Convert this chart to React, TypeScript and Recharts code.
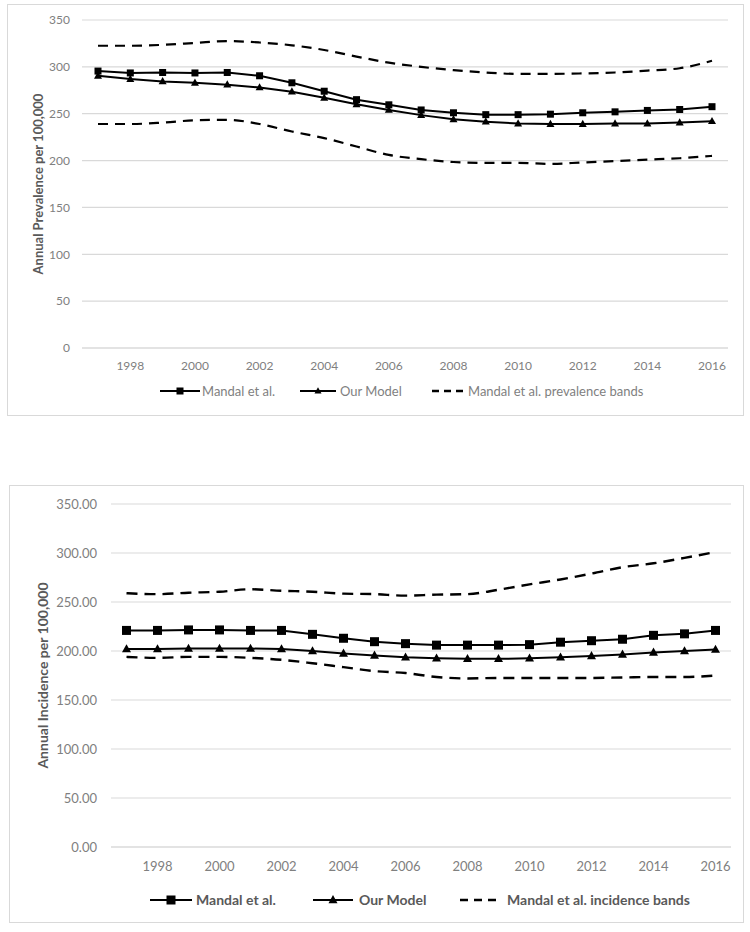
import React from 'react';
import { LineChart, Line, XAxis, YAxis, CartesianGrid, Legend } from 'recharts';

const years = ['1997','1998','1999','2000','2001','2002','2003','2004','2005','2006','2007','2008','2009','2010','2011','2012','2013','2014','2015','2016'];
const xTickLabels = ['1998','2000','2002','2004','2006','2008','2010','2012','2014','2016'];
const yTicks = [0, 50, 100, 150, 200, 250, 300, 350];

const prevMandal = [295.5, 293.5, 294, 293.5, 294, 290.5, 283, 274, 265, 259.5, 254, 251, 249, 249, 249.5, 251, 252, 253.5, 254.5, 257.5];
const prevModel = [290.5, 287, 284.5, 283, 281, 278, 273.5, 267, 260, 254, 248.5, 244, 241.5, 239.5, 239, 239, 239.5, 239.5, 240.5, 242];
const prevUpper = [322.5, 322.5, 323.5, 325.5, 327.5, 326, 323, 318, 311, 304.5, 300, 296.5, 294, 292.5, 292.5, 293, 294, 296, 298.5, 306.5];
const prevLower = [239, 239, 240.5, 243, 243.5, 239, 231, 224, 215, 206, 201.5, 198.5, 197.5, 197.5, 196.5, 198, 199.5, 201, 202.5, 205];

const incMandal = [221, 221, 221.5, 221.5, 221, 221, 217, 213, 209.5, 207.5, 206, 206, 206, 206.5, 209, 210.5, 212, 216, 217.5, 221];
const incModel = [202, 202, 202.5, 202.5, 202.5, 202, 200, 197.5, 195.5, 193.5, 192.5, 192, 192, 192.5, 193.5, 195, 196.5, 198.5, 200, 201.5];
const incUpper = [259, 258, 259.5, 260.5, 263, 261.5, 260.5, 258.5, 258, 256.5, 257.5, 258, 262.5, 268, 273, 279, 285.5, 289.5, 295, 301];
const incLower = [194, 193, 194, 194, 193, 191, 187.5, 183.5, 179.5, 177.5, 173.5, 172, 172.5, 172.5, 172.5, 172.5, 173, 173.5, 173.5, 175];

const prevLegendLabels = ['Mandal et al.', 'Our Model', 'Mandal et al. prevalence bands'];
const incLegendLabels = ['Mandal et al.', 'Our Model', 'Mandal et al. incidence bands'];

const prevData = years.map((y, i) => ({ year: y, mandal: prevMandal[i], model: prevModel[i], upper: prevUpper[i], lower: prevLower[i] }));
const incData = years.map((y, i) => ({ year: y, mandal: incMandal[i], model: incModel[i], upper: incUpper[i], lower: incLower[i] }));

const FONT = "Lato, 'Open Sans', sans-serif";

const squareDot = (size: number) => (props: any) => {
  const { cx, cy, index } = props;
  if (cx == null || cy == null) return <g key={`s${index}`} />;
  return <rect key={`s${index}`} x={cx - size / 2} y={cy - size / 2} width={size} height={size} fill="#000" />;
};
const triDot = (size: number) => (props: any) => {
  const { cx, cy, index } = props;
  if (cx == null || cy == null) return <g key={`t${index}`} />;
  const h = size * 0.9;
  const pts = `${cx},${cy - h * 0.6} ${cx + size / 2},${cy + h * 0.4} ${cx - size / 2},${cy + h * 0.4}`;
  return <polygon key={`t${index}`} points={pts} fill="#000" />;
};

type LegendCfg = {
  labels: string[];
  iconX: number[];
  iconW: number[];
  textX: number[];
  y: number;
  fontSize: number;
  fontWeight: any;
  color: string;
  marker: number;
  dash: string;
};

const makeLegend = (cfg: LegendCfg) => () => {
  const kinds = ['square', 'tri', 'dash'];
  return (
    <div style={{ position: 'relative', width: 0, height: 0 }}>
      {kinds.map((k, i) => {
        const w = cfg.iconW[i];
        const s = cfg.marker;
        return (
          <React.Fragment key={k}>
            <svg style={{ position: 'absolute', left: cfg.iconX[i], top: cfg.y - 8 }} width={w} height={16}>
              {k === 'dash' ? (
                <line x1={0} y1={8} x2={w} y2={8} stroke="#000" strokeWidth={2.4} strokeDasharray={cfg.dash} />
              ) : (
                <line x1={0} y1={8} x2={w} y2={8} stroke="#000" strokeWidth={2} />
              )}
              {k === 'square' && <rect x={w / 2 - s / 2} y={8 - s / 2} width={s} height={s} fill="#000" />}
              {k === 'tri' && (
                <polygon points={`${w / 2},${8 - s * 0.55} ${w / 2 + s / 2},${8 + s * 0.35} ${w / 2 - s / 2},${8 + s * 0.35}`} fill="#000" />
              )}
            </svg>
            <span
              style={{
                position: 'absolute',
                left: cfg.textX[i],
                top: cfg.y - 10,
                height: 20,
                lineHeight: '20px',
                whiteSpace: 'nowrap',
                fontFamily: FONT,
                fontSize: cfg.fontSize,
                fontWeight: cfg.fontWeight,
                color: cfg.color,
              }}
            >
              {cfg.labels[i]}
            </span>
          </React.Fragment>
        );
      })}
    </div>
  );
};

const yLabel = (text: string, offsetX: number, fontSize: number) => (props: any) => {
  const vb = props.viewBox || {};
  const x = (vb.x || 0) + offsetX;
  const y = (vb.y || 0) + (vb.height || 0) / 2;
  return (
    <text
      x={x}
      y={y}
      transform={`rotate(-90, ${x}, ${y})`}
      textAnchor="middle"
      dominantBaseline="central"
      fill="#595959"
      fontFamily={FONT}
      fontWeight="bold"
      fontSize={fontSize}
    >
      {text}
    </text>
  );
};

const xFmt = (v: string) => (xTickLabels.includes(v) ? v : '');

export default function App() {
  return (
    <div style={{ position: 'absolute', left: 0, top: 0, width: 750, height: 932, background: '#fff' }}>
      <div style={{ position: 'absolute', left: 7, top: 4, width: 737, height: 412, border: '1px solid #d9d9d9', boxSizing: 'border-box' }}>
        <LineChart width={735} height={410} data={prevData} margin={{ top: 15, right: 15, left: 0, bottom: 37 }}>
          <CartesianGrid vertical={false} stroke="#d9d9d9" strokeWidth={1.2} />
          <XAxis
            dataKey="year"
            interval={0}
            tickFormatter={xFmt}
            tickLine={false}
            tickSize={0}
            tickMargin={13}
            height={30}
            axisLine={{ stroke: '#d9d9d9', strokeWidth: 1.2 }}
            padding={{ left: 16, right: 16 }}
            tick={{ fill: '#808080', fontSize: 12, fontFamily: FONT }}
          />
          <YAxis
            domain={[0, 350]}
            ticks={yTicks}
            width={74}
            tickLine={false}
            axisLine={false}
            tickSize={0}
            tickMargin={12}
            interval={0}
            tick={{ fill: '#808080', fontSize: 12, fontFamily: FONT }}
            label={yLabel('Annual Prevalence per 100,000', 30, 13)}
          />
          <Legend
            layout="horizontal"
            verticalAlign="middle"
            align="center"
            wrapperStyle={{ left: 0, top: 0, width: 735, height: 0 }}
            content={makeLegend({
              labels: prevLegendLabels,
              iconX: [152, 292, 424],
              iconW: [40, 36, 33],
              textX: [194, 332, 460],
              y: 386,
              fontSize: 13,
              fontWeight: 'normal',
              color: '#7f7f7f',
              marker: 7,
              dash: '7 5',
            })}
          />
          <Line type="linear" dataKey="mandal" stroke="#000" strokeWidth={2} dot={squareDot(7)} activeDot={false} isAnimationActive={false} />
          <Line type="linear" dataKey="model" stroke="#000" strokeWidth={2} dot={triDot(8)} activeDot={false} isAnimationActive={false} />
          <Line type="monotone" dataKey="upper" stroke="#000" strokeWidth={2.2} strokeDasharray="10 7" dot={false} activeDot={false} isAnimationActive={false} />
          <Line type="monotone" dataKey="lower" stroke="#000" strokeWidth={2.2} strokeDasharray="10 7" dot={false} activeDot={false} isAnimationActive={false} />
        </LineChart>
      </div>

      <div style={{ position: 'absolute', left: 9, top: 485, width: 735, height: 438, border: '1px solid #d9d9d9', boxSizing: 'border-box' }}>
        <LineChart width={733} height={436} data={incData} margin={{ top: 18, right: 12, left: 0, bottom: 45 }}>
          <CartesianGrid vertical={false} stroke="#d9d9d9" strokeWidth={1.2} />
          <XAxis
            dataKey="year"
            interval={0}
            tickFormatter={xFmt}
            tickLine={false}
            tickSize={0}
            tickMargin={15}
            height={30}
            axisLine={{ stroke: '#d9d9d9', strokeWidth: 1.2 }}
            padding={{ left: 15.5, right: 15.5 }}
            tick={{ fill: '#808080', fontSize: 13, fontFamily: FONT }}
          />
          <YAxis
            domain={[0, 350]}
            ticks={yTicks}
            width={101}
            tickLine={false}
            axisLine={false}
            tickSize={0}
            tickMargin={14}
            interval={0}
            tickFormatter={(v: number) => v.toFixed(2)}
            tick={{ fill: '#808080', fontSize: 13, fontFamily: FONT }}
            label={yLabel('Annual Incidence per 100,000', 32, 14)}
          />
          <Legend
            layout="horizontal"
            verticalAlign="middle"
            align="center"
            wrapperStyle={{ left: 0, top: 0, width: 733, height: 0 }}
            content={makeLegend({
              labels: incLegendLabels,
              iconX: [140, 303, 450],
              iconW: [42, 40, 42],
              textX: [186, 349, 497],
              y: 414,
              fontSize: 14,
              fontWeight: 'bold',
              color: '#595959',
              marker: 9,
              dash: '8 6',
            })}
          />
          <Line type="linear" dataKey="mandal" stroke="#000" strokeWidth={2} dot={squareDot(9)} activeDot={false} isAnimationActive={false} />
          <Line type="linear" dataKey="model" stroke="#000" strokeWidth={2} dot={triDot(9)} activeDot={false} isAnimationActive={false} />
          <Line type="monotone" dataKey="upper" stroke="#000" strokeWidth={2.4} strokeDasharray="11 7" dot={false} activeDot={false} isAnimationActive={false} />
          <Line type="monotone" dataKey="lower" stroke="#000" strokeWidth={2.4} strokeDasharray="11 7" dot={false} activeDot={false} isAnimationActive={false} />
        </LineChart>
      </div>
    </div>
  );
}
